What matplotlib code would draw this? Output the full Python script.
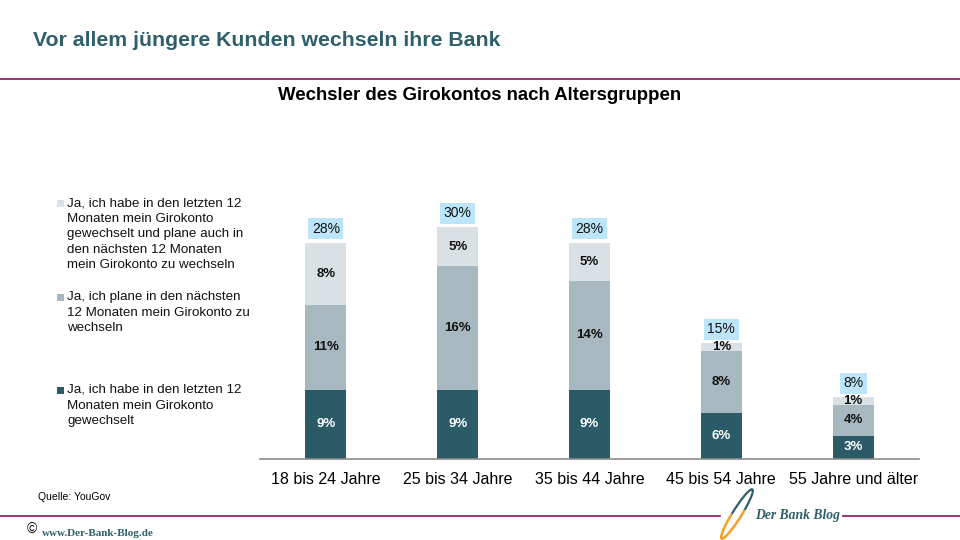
import matplotlib
matplotlib.use("Agg")
import matplotlib.pyplot as plt
from matplotlib.patches import Arc, Rectangle
from matplotlib.lines import Line2D

plt.rcParams['font.family'] = ['Liberation Sans', 'DejaVu Sans']

categories = ["18 bis 24 Jahre", "25 bis 34 Jahre", "35 bis 44 Jahre",
              "45 bis 54 Jahre", "55 Jahre und älter"]
gewechselt = [9, 9, 9, 6, 3]
plane = [11, 16, 14, 8, 4]
beides = [8, 5, 5, 1, 1]
gesamt = [28, 30, 28, 15, 8]

series_names = [
    "Ja, ich habe in den letzten 12\nMonaten mein Girokonto\ngewechselt und plane auch in\nden nächsten 12 Monaten\nmein Girokonto zu wechseln",
    "Ja, ich plane in den nächsten\n12 Monaten mein Girokonto zu\nwechseln",
    "Ja, ich habe in den letzten 12\nMonaten mein Girokonto\ngewechselt",
]

c_dark = "#2B5B66"
c_mid = "#A8B8C0"
c_light = "#D9E1E5"
c_box = "#BDE5FA"
c_title = "#2E5F6B"
c_line = "#8C0F5B"

W, H = 960, 540
fig = plt.figure(figsize=(9.6, 5.4), dpi=100)

def fx(px):
    return px / W

def fy(py):
    return 1 - py / H

# Title
fig.text(fx(33), fy(40), "Vor allem jüngere Kunden wechseln ihre Bank",
         fontsize=15.3, fontweight="bold", color=c_title, va="center", ha="left")
fig.add_artist(Line2D([0, 1], [fy(79), fy(79)], color=c_line, lw=1.2))
fig.text(fx(480), fy(96), "Wechsler des Girokontos nach Altersgruppen",
         fontsize=13.4, fontweight="bold", color="black", va="center", ha="center")

# Axes
ax = fig.add_axes([fx(260), fy(459), fx(919) - fx(260), fy(100) - fy(459)])
x = list(range(len(categories)))
bw = 0.31
ax.bar(x, gewechselt, width=bw, color=c_dark)
bottom2 = gewechselt
ax.bar(x, plane, width=bw, bottom=bottom2, color=c_mid)
bottom3 = [a + b for a, b in zip(gewechselt, plane)]
ax.bar(x, beides, width=bw, bottom=bottom3, color=c_light)

ax.set_xlim(-0.5, 4.5)
ax.set_ylim(0, 46.5)
for s in ["top", "right", "left"]:
    ax.spines[s].set_visible(False)
ax.spines["bottom"].set_color("#8C8C8C")
ax.spines["bottom"].set_linewidth(1.2)
ax.set_yticks([])
ax.set_xticks(x)
ax.set_xticklabels(categories, fontsize=11.5)
ax.tick_params(axis="x", length=0, pad=9)

for i in x:
    ax.text(i, gewechselt[i] / 2, f"{gewechselt[i]}%", ha="center", va="center",
            color="white", fontsize=9.5, fontweight="bold")
    ax.text(i, bottom2[i] + plane[i] / 2, f"{plane[i]}%", ha="center", va="center",
            color="#111111", fontsize=9.5, fontweight="bold")
    ax.text(i, bottom3[i] + beides[i] / 2, f"{beides[i]}%", ha="center", va="center",
            color="#111111", fontsize=9.5, fontweight="bold")
    top = bottom3[i] + beides[i]
    ax.annotate(f"{gesamt[i]}%", (i, top), xytext=(0, 10), textcoords="offset points",
                ha="center", va="center", fontsize=10, color="#111111",
                bbox=dict(boxstyle="square,pad=0.25", fc=c_box, ec="none"))

# Legend (manual)
leg_items = [(c_light, series_names[0], 203), (c_mid, series_names[1], 297), (c_dark, series_names[2], 390)]
for col, txt, ypx in leg_items:
    fig.add_artist(Rectangle((fx(57), fy(ypx + 3.5)), fx(7), fy(0) - fy(7),
                             transform=fig.transFigure, fc=col, ec="none"))
    fig.text(fx(67), fy(ypx - 6), txt, fontsize=9.6, va="top", ha="left",
             color="#111111", linespacing=1.4)

# Footer
fig.text(fx(38), fy(497), "Quelle: YouGov", fontsize=7.5, ha="left", va="center")
fig.add_artist(Line2D([0, fx(720)], [fy(516), fy(516)], color=c_line, lw=1.2))
fig.add_artist(Line2D([fx(843), 1], [fy(516), fy(516)], color=c_line, lw=1.2))
fig.text(fx(755), fy(516), "Der Bank Blog", fontsize=9.8, fontweight="bold", style="italic",
         family=["Liberation Serif", "DejaVu Serif"], color="#2E5F6B", ha="left", va="center")
fig.text(fx(27), fy(529), "©", fontsize=10, ha="left", va="center", color="black")
fig.text(fx(42), fy(533), "www.Der-Bank-Blog.de", fontsize=8, fontweight="bold",
         family=["Liberation Serif", "DejaVu Serif"], color="#2E5F6B", ha="left", va="center")

# Logo swoosh
lax = fig.add_axes([fx(700), fy(540), fx(70), fy(488) - fy(540)])
lax.set_xlim(0, 70)
lax.set_ylim(0, 52)
lax.axis("off")
cx, cy = 37, 26
lax.add_patch(Arc((cx, cy), 58, 9, angle=58, theta1=120, theta2=330, color="#F4A024", lw=1.8))
lax.add_patch(Arc((cx, cy), 58, 9, angle=58, theta1=330, theta2=480, color="#2E5F6B", lw=1.6))

fig.savefig("out.png", dpi=100)
